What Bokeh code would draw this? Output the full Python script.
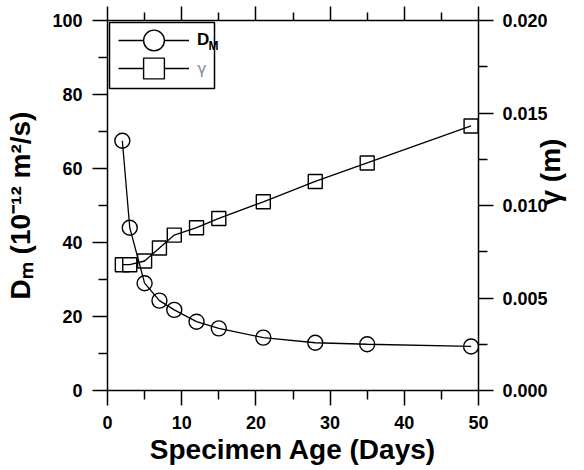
import math
from bokeh.plotting import figure
from bokeh.models import (Range1d, LinearAxis, FixedTicker, Label, Legend, LegendItem,
                          BoxAnnotation)
from bokeh.embed import file_html
from bokeh.resources import INLINE

# ---- data ----
age = [2, 3, 5, 7, 9, 12, 15, 21, 28, 35, 49]
dm = [67.5, 44.0, 29.0, 24.3, 21.8, 18.6, 16.8, 14.3, 12.9, 12.5, 11.9]
gamma = [0.0068, 0.0068, 0.0070, 0.0077, 0.0084, 0.0088, 0.0093, 0.0102, 0.0113, 0.0123, 0.0143]

x_ticks = [0, 10, 20, 30, 40, 50]
x_minor = [5, 15, 25, 35, 45]
y_ticks = [0, 20, 40, 60, 80, 100]
y_minor = [10, 30, 50, 70, 90]
g_ticks = [0.0, 0.005, 0.010, 0.015, 0.020]
g_minor = [0.0025, 0.0075, 0.0125, 0.0175]
g_labels = ["0.000", "0.005", "0.010", "0.015", "0.020"]

FONT = "Liberation Sans"

p = figure(width=584, height=470, x_range=Range1d(0, 50), y_range=Range1d(0, 100),
           output_backend="svg", toolbar_location=None,
           x_axis_location=None, y_axis_location=None,
           min_border_left=107, min_border_right=103, min_border_top=20, min_border_bottom=80)
p.extra_y_ranges = {"g": Range1d(0, 0.020)}
p.outline_line_color = None
p.background_fill_color = "white"
p.border_fill_color = "white"
p.xgrid.visible = False
p.ygrid.visible = False


def style_axis(ax, tick_out=15, minor_out=9):
    ax.axis_line_color = "black"
    ax.axis_line_width = 1.5
    ax.major_tick_line_color = "black"
    ax.minor_tick_line_color = "black"
    ax.major_tick_line_width = 1.5
    ax.minor_tick_line_width = 1.5
    ax.major_tick_in = 0
    ax.minor_tick_in = 0
    ax.major_tick_out = tick_out
    ax.minor_tick_out = minor_out
    ax.major_label_text_font = FONT
    ax.major_label_text_font_style = "bold"
    ax.major_label_text_font_size = "18px"
    ax.major_label_text_color = "black"
    ax.axis_label_text_font = FONT
    ax.axis_label_text_font_style = "bold"
    ax.axis_label_text_font_size = "28px"
    ax.axis_label_text_color = "black"


bottom = LinearAxis(ticker=FixedTicker(ticks=x_ticks, minor_ticks=x_minor))
style_axis(bottom)
bottom.major_label_standoff = 10
bottom.axis_label = "Specimen Age (Days)"
bottom.axis_label_standoff = 2
p.add_layout(bottom, "below")

top = LinearAxis(ticker=FixedTicker(ticks=x_ticks, minor_ticks=x_minor))
style_axis(top, 14, 8)
top.major_label_overrides = {t: "" for t in x_ticks}
top.major_label_standoff = 0
top.major_label_text_font_size = "1px"
p.add_layout(top, "above")

left = LinearAxis(ticker=FixedTicker(ticks=y_ticks, minor_ticks=y_minor))
style_axis(left)
left.major_label_standoff = 10
left.axis_label = "D\u2098 (10\u207b\u00b9\u00b2 m\u00b2/s)"
left.axis_label_standoff = 13
p.add_layout(left, "left")

right = LinearAxis(y_range_name="g", ticker=FixedTicker(ticks=g_ticks, minor_ticks=g_minor))
style_axis(right)
right.major_label_standoff = 9
right.major_label_overrides = {t: s for t, s in zip(g_ticks, g_labels)}
right.axis_label = "\u03b3 (m)"
right.axis_label_standoff = 0
if "axis_label_orientation" in right.properties():
    right.axis_label_orientation = math.pi / 2
p.add_layout(right, "right")

# ---- data marks (white-filled markers under the lines) ----
m_dm = p.scatter(age, dm, marker="circle", size=15, fill_color="white",
                 line_color="black", line_width=1.4)
m_g = p.scatter(age, gamma, y_range_name="g", marker="square", size=14, fill_color="white",
                line_color="black", line_width=1.4)
l_dm = p.line(age, dm, line_color="black", line_width=1.3)
l_g = p.line(age, gamma, y_range_name="g", line_color="black", line_width=1.3)


def make_legend(label, renderers, loc, style, color, size, font):
    return Legend(items=[LegendItem(label=label, renderers=renderers)], location=loc,
                  orientation="vertical", padding=0, margin=0, spacing=0,
                  glyph_width=71, glyph_height=52, label_standoff=8,
                  border_line_color=None, background_fill_alpha=0,
                  label_text_font=font, label_text_font_style=style,
                  label_text_font_size=size, label_text_color=color)


p.add_layout(make_legend("D", [l_dm, m_dm], (11, 324), "bold", "black", "17px", FONT))
p.add_layout(make_legend("\u03b3", [l_g, m_g], (11, 296), "normal", "#7f8ba3", "16px", "DejaVu Sans"))
p.add_layout(BoxAnnotation(left=2, right=107, bottom=302, top=368,
                           left_units="screen", right_units="screen",
                           bottom_units="screen", top_units="screen",
                           fill_alpha=0, line_color="black", line_alpha=1.0, line_width=1.5))
p.add_layout(Label(x=101, y=338, x_units="screen", y_units="screen", text="M",
                   text_font=FONT, text_font_style="bold", text_font_size="12px",
                   text_color="black"))

open("out.html", "w").write(file_html(p, INLINE))
